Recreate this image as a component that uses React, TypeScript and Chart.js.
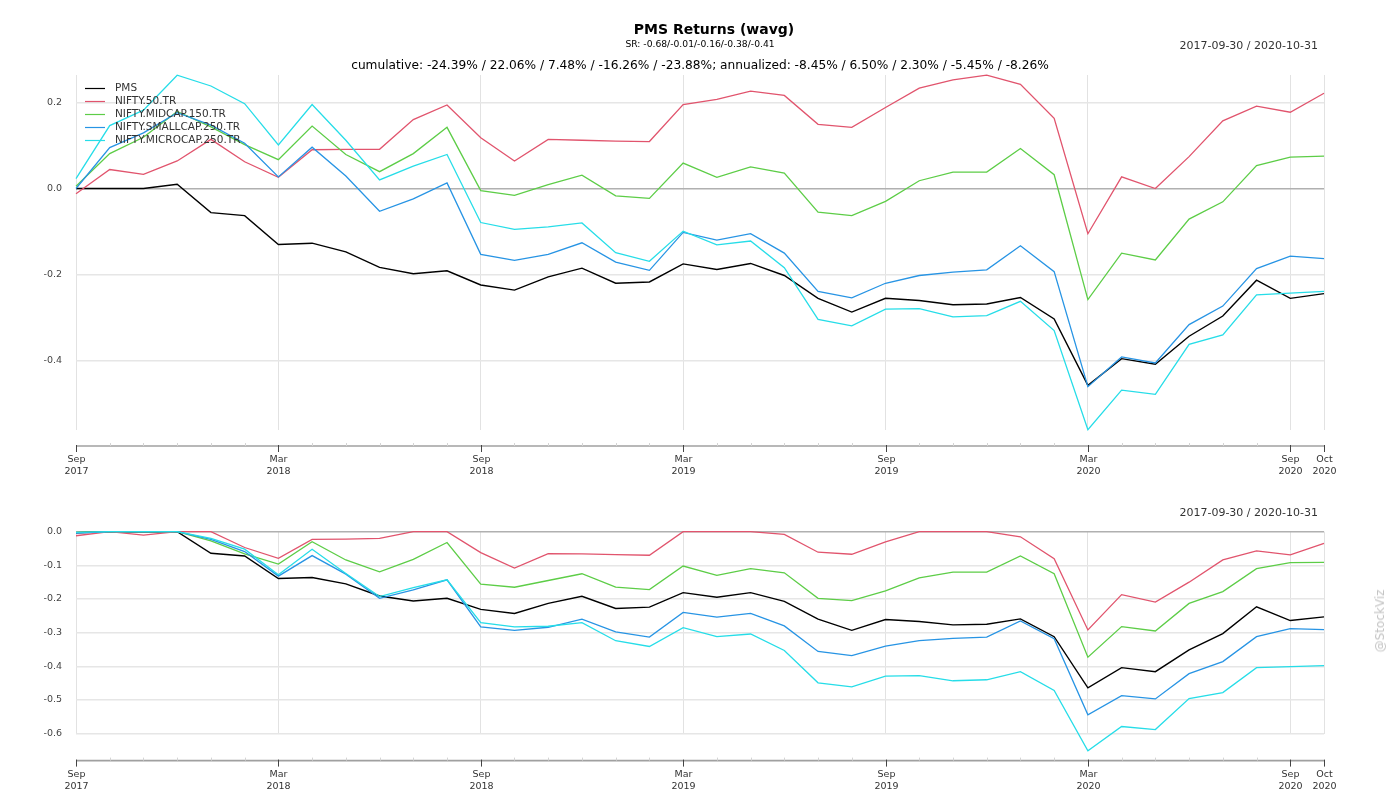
import React, { useEffect, useRef } from 'react';
import { Chart, registerables } from 'chart.js';

Chart.register(...registerables);

const MONTHS = [
  'Sep 2017', 'Oct 2017', 'Nov 2017', 'Dec 2017',
  'Jan 2018', 'Feb 2018', 'Mar 2018', 'Apr 2018', 'May 2018', 'Jun 2018', 'Jul 2018', 'Aug 2018', 'Sep 2018', 'Oct 2018', 'Nov 2018', 'Dec 2018',
  'Jan 2019', 'Feb 2019', 'Mar 2019', 'Apr 2019', 'May 2019', 'Jun 2019', 'Jul 2019', 'Aug 2019', 'Sep 2019', 'Oct 2019', 'Nov 2019', 'Dec 2019',
  'Jan 2020', 'Feb 2020', 'Mar 2020', 'Apr 2020', 'May 2020', 'Jun 2020', 'Jul 2020', 'Aug 2020', 'Sep 2020', 'Oct 2020',
];
const TICK_LABELS = ['Sep 2017', 'Mar 2018', 'Sep 2018', 'Mar 2019', 'Sep 2019', 'Mar 2020', 'Sep 2020', 'Oct 2020'];

const SERIES_NAMES = ['PMS', 'NIFTY.50.TR', 'NIFTY.MIDCAP.150.TR', 'NIFTY.SMALLCAP.250.TR', 'NIFTY.MICROCAP.250.TR'];
const SERIES_COLORS = ['#000000', '#e1546d', '#5dcd47', '#2794e4', '#26dde8'];

// cumulative returns (top panel)
const PMS_CUM = [0, 0, 0, 0.010, -0.056, -0.063, -0.130, -0.127, -0.147, -0.183, -0.198, -0.191, -0.224, -0.236, -0.205, -0.185, -0.220, -0.217, -0.175, -0.188, -0.174, -0.202, -0.255, -0.287, -0.255, -0.260, -0.270, -0.268, -0.253, -0.303, -0.457, -0.395, -0.408, -0.343, -0.296, -0.213, -0.255, -0.244];
const N50_CUM = [-0.012, 0.044, 0.033, 0.064, 0.114, 0.062, 0.026, 0.090, 0.091, 0.091, 0.160, 0.194, 0.118, 0.064, 0.114, 0.112, 0.110, 0.109, 0.195, 0.207, 0.226, 0.216, 0.149, 0.142, 0.188, 0.233, 0.252, 0.263, 0.242, 0.163, -0.105, 0.027, 0.000, 0.074, 0.157, 0.191, 0.177, 0.221];
const MID_CUM = [0.005, 0.081, 0.119, 0.179, 0.143, 0.102, 0.067, 0.145, 0.079, 0.039, 0.081, 0.142, -0.005, -0.016, 0.009, 0.031, -0.017, -0.023, 0.059, 0.026, 0.050, 0.036, -0.055, -0.063, -0.030, 0.018, 0.038, 0.038, 0.093, 0.032, -0.258, -0.150, -0.166, -0.071, -0.031, 0.053, 0.073, 0.075];
const SMALL_CUM = [0, 0.095, 0.129, 0.176, 0.147, 0.105, 0.027, 0.096, 0.029, -0.053, -0.024, 0.013, -0.153, -0.167, -0.153, -0.126, -0.171, -0.190, -0.102, -0.120, -0.105, -0.150, -0.239, -0.254, -0.220, -0.202, -0.194, -0.189, -0.133, -0.193, -0.460, -0.391, -0.405, -0.316, -0.273, -0.186, -0.157, -0.163];
const MICRO_CUM = [0.023, 0.146, 0.182, 0.263, 0.238, 0.197, 0.101, 0.195, 0.112, 0.020, 0.052, 0.079, -0.079, -0.095, -0.089, -0.080, -0.149, -0.169, -0.099, -0.131, -0.122, -0.184, -0.304, -0.319, -0.280, -0.279, -0.298, -0.295, -0.262, -0.330, -0.560, -0.468, -0.478, -0.362, -0.340, -0.247, -0.243, -0.239];

// drawdowns (bottom panel)
const PMS_DD = [-0.003, 0, 0, 0, -0.064, -0.072, -0.139, -0.136, -0.155, -0.191, -0.206, -0.198, -0.231, -0.243, -0.213, -0.192, -0.228, -0.224, -0.181, -0.195, -0.181, -0.207, -0.260, -0.293, -0.261, -0.267, -0.277, -0.275, -0.259, -0.312, -0.464, -0.404, -0.416, -0.351, -0.303, -0.223, -0.264, -0.253];
const N50_DD = [-0.012, 0, -0.010, 0, 0, -0.047, -0.079, -0.023, -0.022, -0.020, 0, 0, -0.062, -0.108, -0.065, -0.066, -0.068, -0.070, 0, 0, 0, -0.008, -0.061, -0.067, -0.030, 0, 0, 0, -0.015, -0.080, -0.292, -0.187, -0.209, -0.150, -0.084, -0.057, -0.069, -0.035];
const MID_DD = [-0.002, 0, 0, 0, -0.027, -0.066, -0.096, -0.030, -0.084, -0.119, -0.082, -0.032, -0.156, -0.165, -0.145, -0.125, -0.165, -0.172, -0.102, -0.130, -0.110, -0.122, -0.198, -0.205, -0.176, -0.137, -0.120, -0.120, -0.072, -0.125, -0.373, -0.282, -0.295, -0.213, -0.178, -0.110, -0.092, -0.091];
const SMALL_DD = [-0.004, 0, 0, 0, -0.023, -0.059, -0.132, -0.071, -0.126, -0.198, -0.173, -0.143, -0.283, -0.293, -0.284, -0.260, -0.298, -0.313, -0.240, -0.254, -0.243, -0.280, -0.356, -0.368, -0.340, -0.324, -0.317, -0.313, -0.265, -0.318, -0.544, -0.487, -0.497, -0.422, -0.386, -0.312, -0.288, -0.291];
const MICRO_DD = [-0.002, 0, 0, 0, -0.020, -0.052, -0.128, -0.052, -0.124, -0.193, -0.166, -0.143, -0.270, -0.283, -0.281, -0.270, -0.324, -0.341, -0.285, -0.312, -0.304, -0.353, -0.449, -0.461, -0.429, -0.428, -0.443, -0.440, -0.416, -0.472, -0.651, -0.579, -0.588, -0.496, -0.478, -0.404, -0.401, -0.398];

const TOP_Y_TICKS = [-0.4, -0.2, 0, 0.2];
const BOTTOM_Y_TICKS = [-0.6, -0.5, -0.4, -0.3, -0.2, -0.1, 0];

const TITLE = 'PMS Returns (wavg)';
const SR_TEXT = 'SR: -0.68/-0.01/-0.16/-0.38/-0.41';
const DATE_TEXT = '2017-09-30 / 2020-10-31';
const CUM_TEXT = 'cumulative: -24.39% / 22.06% / 7.48% / -16.26% / -23.88%; annualized: -8.45% / 6.50% / 2.30% / -5.45% / -8.26%';
const WATERMARK = '@StockViz';

const FONT = '"DejaVu Sans", sans-serif';

function offsetAxisPlugin(offset: number) {
  return {
    id: 'offsetAxis',
    afterDraw(chart: any) {
      const { ctx, chartArea } = chart;
      const xs = chart.scales.x;
      const y0 = chartArea.bottom + offset;
      ctx.save();
      ctx.strokeStyle = '#a0a0a0';
      ctx.lineWidth = 1.6;
      ctx.beginPath();
      ctx.moveTo(chartArea.left, y0);
      ctx.lineTo(chartArea.right, y0);
      ctx.stroke();
      ctx.font = '9.5px ' + FONT;
      ctx.textAlign = 'center';
      ctx.textBaseline = 'middle';
      MONTHS.forEach((m, i) => {
        const x = Math.round(xs.getPixelForValue(i)) + 0.5;
        if (TICK_LABELS.includes(m)) {
          ctx.strokeStyle = '#444';
          ctx.lineWidth = 1;
          ctx.beginPath();
          ctx.moveTo(x, y0 - 1);
          ctx.lineTo(x, y0 + 6);
          ctx.stroke();
          const [mon, yr] = m.split(' ');
          ctx.fillStyle = '#333';
          ctx.fillText(mon, x, y0 + 14);
          ctx.fillText(yr, x, y0 + 26);
        } else {
          ctx.strokeStyle = '#d4d4d4';
          ctx.lineWidth = 1;
          ctx.beginPath();
          ctx.moveTo(x, y0 - 3);
          ctx.lineTo(x, y0);
          ctx.stroke();
        }
      });
      ctx.restore();
    },
  };
}

const legendPlugin = {
  id: 'innerLegend',
  afterDatasetsDraw(chart: any) {
    const { ctx } = chart;
    ctx.save();
    ctx.font = '10.5px ' + FONT;
    ctx.textBaseline = 'middle';
    ctx.textAlign = 'left';
    SERIES_NAMES.forEach((name, i) => {
      const y = 88.5 + i * 13;
      ctx.strokeStyle = SERIES_COLORS[i];
      ctx.lineWidth = 1.2;
      ctx.beginPath();
      ctx.moveTo(85, y);
      ctx.lineTo(105, y);
      ctx.stroke();
      ctx.fillStyle = '#333';
      ctx.fillText(name, 115, y);
    });
    ctx.restore();
  },
};

function buildChart(
  canvas: HTMLCanvasElement,
  series: number[][],
  yMin: number,
  yMax: number,
  yTicks: number[],
  padding: any,
  axisOffset: number,
  withLegend: boolean,
) {
  const datasets = series.map((vals, i) => ({
    label: SERIES_NAMES[i],
    data: vals,
    borderColor: SERIES_COLORS[i],
    backgroundColor: SERIES_COLORS[i],
    borderWidth: i === 0 ? 1.4 : 1.3,
    pointRadius: 0,
    tension: 0,
    fill: false,
    clip: false as any,
  }));
  const plugins: any[] = [offsetAxisPlugin(axisOffset)];
  if (withLegend) plugins.push(legendPlugin);
  return new Chart(canvas, {
    type: 'line',
    data: { labels: MONTHS, datasets: datasets.slice().reverse() },
    plugins,
    options: {
      animation: false,
      responsive: false,
      devicePixelRatio: 1,
      layout: { padding },
      plugins: { legend: { display: false }, tooltip: { enabled: false }, title: { display: false } },
      scales: {
        x: {
          type: 'category',
          offset: false,
          border: { display: false },
          ticks: { display: false, autoSkip: false },
          grid: {
            drawTicks: false,
            lineWidth: 1,
            color: (c: any) => (TICK_LABELS.includes(MONTHS[c.index]) ? '#e2e2e2' : 'rgba(0,0,0,0)'),
          },
          afterFit: (s: any) => { s.height = 0; },
        },
        y: {
          min: yMin,
          max: yMax,
          border: { display: false },
          afterBuildTicks: (s: any) => { s.ticks = yTicks.map((v) => ({ value: v })); },
          afterFit: (s: any) => { s.width = 76; },
          ticks: {
            padding: 14,
            color: '#444',
            font: { family: FONT, size: 9.5 },
            callback: (v: any) => Number(v).toFixed(1),
          },
          grid: {
            drawTicks: false,
            lineWidth: (c: any) => (c.tick && c.tick.value === 0 ? 1.4 : 1.6),
            color: (c: any) => (c.tick && c.tick.value === 0 ? '#b0b0b0' : '#e6e6e6'),
          },
        },
      },
    } as any,
  });
}

function Txt(props: { x: number; y: number; size: number; bold?: boolean; align?: string; color?: string; children: any }) {
  const { x, y, size, bold, align, color, children } = props;
  const tx = align === 'right' ? '-100%' : align === 'left' ? '0' : '-50%';
  return (
    <div
      style={{
        position: 'absolute',
        left: x,
        top: y,
        transform: `translate(${tx}, -50%)`,
        fontFamily: FONT,
        fontSize: size,
        fontWeight: bold ? 'bold' : 'normal',
        color: color || '#000',
        whiteSpace: 'nowrap',
        lineHeight: 1,
      }}
    >
      {children}
    </div>
  );
}

const TOP_H = 490;
const BOT_H = 800 - TOP_H;

export default function App() {
  const topRef = useRef<HTMLCanvasElement>(null);
  const botRef = useRef<HTMLCanvasElement>(null);

  useEffect(() => {
    const c1 = buildChart(
      topRef.current!,
      [PMS_CUM, N50_CUM, MID_CUM, SMALL_CUM, MICRO_CUM],
      -0.5607, 0.2635, TOP_Y_TICKS,
      { top: 75, bottom: TOP_H - 430, left: 0, right: 76 },
      16, true,
    );
    const c2 = buildChart(
      botRef.current!,
      [PMS_DD, N50_DD, MID_DD, SMALL_DD, MICRO_DD],
      -0.6, 0, BOTTOM_Y_TICKS,
      { top: 531.7 - TOP_H, bottom: 800 - 733.6, left: 0, right: 76 },
      27, false,
    );
    return () => { c1.destroy(); c2.destroy(); };
  }, []);

  return (
    <div style={{ position: 'absolute', left: 0, top: 0, width: 1400, height: 800, background: '#fff', overflow: 'hidden' }}>
      <canvas ref={topRef} width={1400} height={TOP_H} style={{ position: 'absolute', left: 0, top: 0, width: 1400, height: TOP_H }} />
      <canvas ref={botRef} width={1400} height={BOT_H} style={{ position: 'absolute', left: 0, top: TOP_H, width: 1400, height: BOT_H }} />
      <Txt x={714} y={29} size={14} bold>{TITLE}</Txt>
      <Txt x={700} y={44} size={9.2}>{SR_TEXT}</Txt>
      <Txt x={1318} y={45} size={11} align="right" color="#333">{DATE_TEXT}</Txt>
      <Txt x={700} y={65} size={12.2}>{CUM_TEXT}</Txt>
      <Txt x={1318} y={512} size={11} align="right" color="#333">{DATE_TEXT}</Txt>
      <div
        style={{
          position: 'absolute',
          left: 1380,
          top: 621,
          transform: 'translate(-50%, -50%) rotate(-90deg)',
          fontFamily: FONT,
          fontSize: 12,
          color: '#c4c4c4',
          whiteSpace: 'nowrap',
          lineHeight: 1,
        }}
      >
        {WATERMARK}
      </div>
    </div>
  );
}
